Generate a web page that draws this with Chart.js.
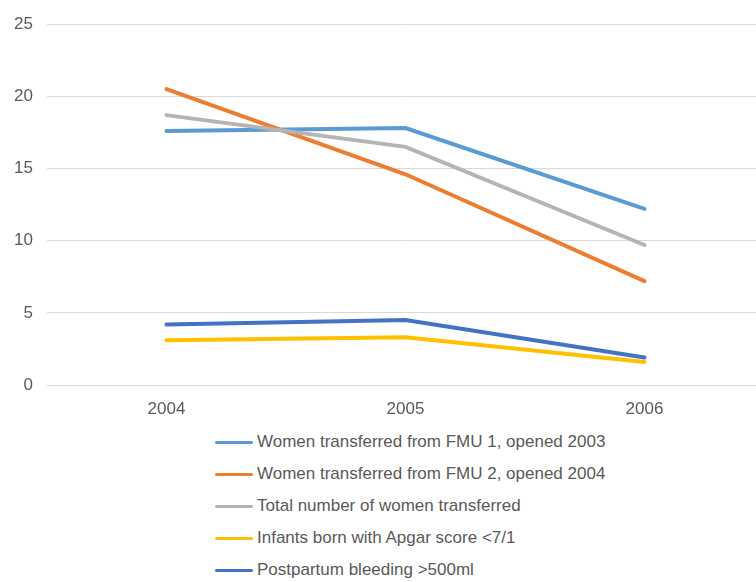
<!DOCTYPE html>
<html>
<head>
<meta charset="utf-8">
<script src="https://cdn.jsdelivr.net/npm/chart.js@4"></script>
<style>
  html, body { margin: 0; padding: 0; background: #fff; overflow: hidden; }
  #wrap { position: relative; width: 764px; height: 425px; }
  #legend { position: absolute; left: 215px; top: 426px; font-family: "Liberation Sans", Arial, sans-serif; font-size: 17px; color: #595959; }
  .item { display: flex; align-items: center; height: 32px; }
  .swatch { width: 38px; height: 3px; border-radius: 2px; margin-right: 4px; }
</style>
</head>
<body>
<div id="wrap"><canvas id="chart" width="764" height="425"></canvas></div>
<div id="legend"></div>
<script>
const years = ['2004', '2005', '2006'];
const seriesNames = [
  'Women transferred from FMU 1, opened 2003',
  'Women transferred from FMU 2, opened 2004',
  'Total number of women transferred',
  'Infants born with Apgar score <7/1',
  'Postpartum bleeding >500ml'
];
const fmu1 = [17.6, 17.8, 12.2];
const fmu2 = [20.5, 14.6, 7.2];
const total = [18.7, 16.5, 9.7];
const apgar = [3.1, 3.3, 1.6];
const bleeding = [4.2, 4.5, 1.9];
const colors = ['#5B9BD5', '#ED7D31', '#B4B4B4', '#FFC000', '#4472C4'];

const allSeries = [fmu1, fmu2, total, apgar, bleeding];

const datasets = allSeries.map((vals, i) => ({
  label: seriesNames[i],
  data: vals,
  borderColor: colors[i],
  backgroundColor: colors[i],
  borderWidth: 4,
  borderCapStyle: 'round',
  pointRadius: 0,
  tension: 0,
  order: allSeries.length - i // later series on top
}));

const chart = new Chart(document.getElementById('chart').getContext('2d'), {
  type: 'line',
  data: { labels: years, datasets: datasets },
  options: {
    responsive: false,
    animation: false,
    layout: { padding: { top: 23, right: 0, left: 0, bottom: 0 } },
    plugins: { legend: { display: false }, tooltip: { enabled: false } },
    scales: {
      x: {
        offset: true,
        grid: { display: false, drawTicks: false },
        border: { display: false },
        ticks: { color: '#595959', padding: 14, font: { family: 'Liberation Sans', size: 17 } },
        afterFit: s => { s.height = 40; }
      },
      y: {
        min: 0,
        max: 25,
        ticks: { stepSize: 5, color: '#595959', padding: 14, font: { family: 'Liberation Sans', size: 17 } },
        grid: { color: '#d9d9d9', lineWidth: 1, drawTicks: false },
        border: { display: false },
        afterFit: s => { s.width = 47; }
      }
    }
  }
});

// vertical legend below the chart
const legend = document.getElementById('legend');
chart.data.datasets.forEach(ds => {
  const row = document.createElement('div');
  row.className = 'item';
  const sw = document.createElement('span');
  sw.className = 'swatch';
  sw.style.background = ds.borderColor;
  const txt = document.createElement('span');
  txt.textContent = ds.label;
  row.appendChild(sw);
  row.appendChild(txt);
  legend.appendChild(row);
});
</script>
</body>
</html>
